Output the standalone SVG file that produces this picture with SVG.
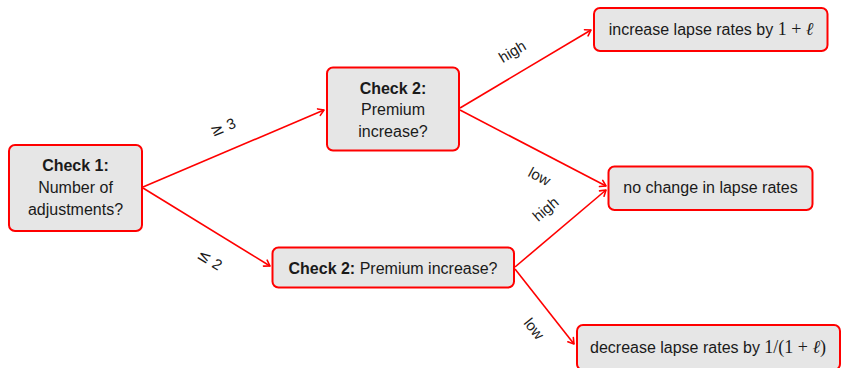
<svg xmlns="http://www.w3.org/2000/svg" width="841" height="368" viewBox="0 0 841 368">
<defs>
<style>
.box{fill:#e6e6e6;stroke:#ff0000;stroke-width:2}
.t{font-family:"Liberation Sans",Arial,sans-serif;font-size:16px;fill:#1a1a1a;text-anchor:middle}
.b{font-weight:bold}
.m{font-family:"Liberation Serif","Times New Roman",serif;font-size:18px}
.mi{font-family:"Liberation Serif","Times New Roman",serif;font-size:18px;font-style:italic}
.lbl{font-family:"Liberation Sans",Arial,sans-serif;font-size:15px;fill:#1a1a1a;text-anchor:middle}
.sym{font-family:"DejaVu Sans",sans-serif;font-size:16px}
.c{stroke:#ff0000;stroke-width:1.6;fill:none}
</style>
<marker id="arr" markerWidth="10" markerHeight="10" refX="7" refY="5" orient="auto" markerUnits="userSpaceOnUse">
<path d="M1.5,1.5 L7,5 L1.5,8.5" fill="none" stroke="#ff0000" stroke-width="1.6" stroke-linecap="round" stroke-linejoin="round"/>
</marker>
</defs>
<g id="connectors">
<line class="c" x1="143" y1="187" x2="324" y2="110" marker-end="url(#arr)"/>
<line class="c" x1="143" y1="188" x2="270" y2="266" marker-end="url(#arr)"/>
<line class="c" x1="460" y1="108" x2="591" y2="30" marker-end="url(#arr)"/>
<line class="c" x1="460" y1="110" x2="606" y2="186" marker-end="url(#arr)"/>
<line class="c" x1="515" y1="267" x2="606" y2="190" marker-end="url(#arr)"/>
<line class="c" x1="515" y1="269" x2="574" y2="344" marker-end="url(#arr)"/>
<text class="lbl" transform="translate(225,132) rotate(-23)"><tspan class="sym">≥</tspan>  3</text>
<text class="lbl" transform="translate(207,264) rotate(32)"><tspan class="sym">≤</tspan>  2</text>
<text class="lbl" transform="translate(515,56) rotate(-31)">high</text>
<text class="lbl" transform="translate(537,181) rotate(28)">low</text>
<text class="lbl" transform="translate(549,213) rotate(-41)">high</text>
<text class="lbl" transform="translate(530,332) rotate(51)">low</text>
</g>
<g id="check1">
<rect class="box" x="9" y="145" width="133" height="86" rx="6"/>
<text class="t" x="75.5" y="170.5"><tspan class="b">Check 1:</tspan></text>
<text class="t" x="75.5" y="193">Number of</text>
<text class="t" x="75.5" y="215">adjustments?</text>
</g>
<g id="check2top">
<rect class="box" x="327" y="67.5" width="132" height="83" rx="6"/>
<text class="t" x="393" y="93.5"><tspan class="b">Check 2:</tspan></text>
<text class="t" x="393" y="115">Premium</text>
<text class="t" x="393" y="136.5">increase?</text>
</g>
<g id="check2bottom">
<rect class="box" x="272.5" y="247.5" width="241.5" height="40" rx="6"/>
<text class="t" x="393" y="273.5"><tspan class="b">Check 2:</tspan> Premium increase?</text>
</g>
<g id="increase">
<rect class="box" x="594" y="8" width="233.5" height="43" rx="6"/>
<text class="t" x="711" y="34.5">increase lapse rates by <tspan class="m">1 + </tspan><tspan class="mi">ℓ</tspan></text>
</g>
<g id="nochange">
<rect class="box" x="608.5" y="166.5" width="204" height="43.5" rx="6"/>
<text class="t" x="710.5" y="192.5">no change in lapse rates</text>
</g>
<g id="decrease">
<rect class="box" x="577" y="325" width="263" height="45" rx="6"/>
<text class="t" x="708" y="352.5">decrease lapse rates by <tspan class="m">1/(1 + </tspan><tspan class="mi">ℓ</tspan><tspan class="m">)</tspan></text>
</g>
</svg>
